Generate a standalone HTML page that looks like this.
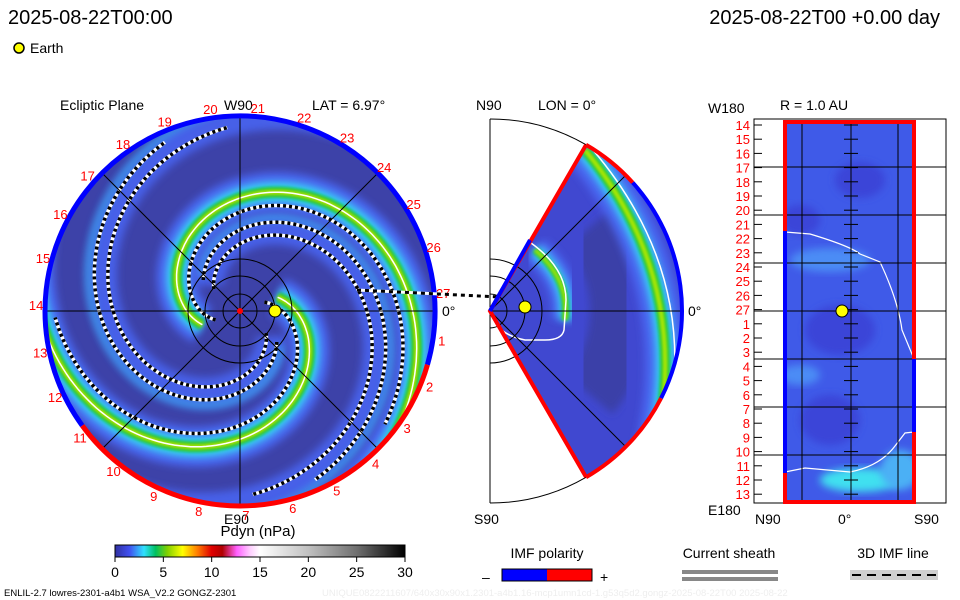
<!DOCTYPE html>
<html><head><meta charset="utf-8"><style>
html,body{margin:0;padding:0;background:#fff;}
svg{display:block;font-family:"Liberation Sans",sans-serif;}
</style></head><body>
<svg id="s" width="960" height="600" viewBox="0 0 960 600" xmlns="http://www.w3.org/2000/svg">
<defs>
<filter id="bl" x="-20%" y="-20%" width="140%" height="140%"><feGaussianBlur stdDeviation="4"/></filter>
<filter id="bl2" x="-20%" y="-20%" width="140%" height="140%"><feGaussianBlur stdDeviation="1.5"/></filter>
<clipPath id="cc"><circle cx="240" cy="311" r="195"/></clipPath>
<clipPath id="wc"><path d="M490,311 L586,145 A192,192 0 0 1 586,477 Z"/></clipPath>
<clipPath id="rc"><rect x="785" y="122" width="129" height="380"/></clipPath>
<linearGradient id="cb" x1="0" x2="1" y1="0" y2="0">
<stop offset="0" stop-color="#3030a0"/><stop offset="0.05" stop-color="#4050f0"/><stop offset="0.1" stop-color="#30e0ff"/><stop offset="0.14" stop-color="#00c060"/><stop offset="0.18" stop-color="#80d000"/><stop offset="0.233" stop-color="#ffff00"/><stop offset="0.283" stop-color="#ff8000"/><stop offset="0.333" stop-color="#e00000"/><stop offset="0.37" stop-color="#b00000"/><stop offset="0.42" stop-color="#ff60ff"/><stop offset="0.467" stop-color="#ffd0ff"/><stop offset="0.5" stop-color="#ffffff"/><stop offset="0.667" stop-color="#c0c0c0"/><stop offset="0.833" stop-color="#707070"/><stop offset="1" stop-color="#000000"/>
</linearGradient>
<linearGradient id="pol" x1="0" x2="1"><stop offset="0.5" stop-color="#0000ff"/><stop offset="0.5" stop-color="#ff0000"/></linearGradient>
</defs>

<text x="8" y="24" font-size="20">2025-08-22T00:00</text>
<text x="940" y="24" font-size="20" text-anchor="end">2025-08-22T00 +0.00 day</text>
<circle cx="19" cy="48" r="5" fill="#ffff00" stroke="#000" stroke-width="1.5"/>
<text x="30" y="53" font-size="14">Earth</text>

<text x="60" y="110" font-size="14">Ecliptic Plane</text>
<text x="224" y="110" font-size="14">W90</text>
<text x="312" y="110" font-size="14">LAT = 6.97°</text>
<text x="224" y="524" font-size="14">E90</text>
<text x="442" y="316" font-size="14">0°</text>

<g clip-path="url(#cc)">
<rect x="40" y="110" width="400" height="400" fill="#3d42a8"/>
<g id="spirals"></g>
</g>
<g id="circAx"></g>

<text x="476" y="110" font-size="14">N90</text>
<text x="538" y="110" font-size="14">LON = 0°</text>
<text x="474" y="524" font-size="14">S90</text>
<text x="688" y="316" font-size="14">0°</text>
<g id="mer"></g>

<text x="780" y="110" font-size="14">R = 1.0 AU</text>
<text x="708" y="113" font-size="14">W180</text>
<text x="708" y="515" font-size="14">E180</text>
<text x="755" y="524" font-size="14">N90</text>
<text x="838" y="524" font-size="14">0°</text>
<text x="914" y="524" font-size="14">S90</text>
<g id="rp"></g>

<text x="258" y="536" font-size="15" text-anchor="middle">Pdyn (nPa)</text>
<rect x="115" y="545" width="290" height="12" fill="url(#cb)" stroke="#000"/>
<g id="cbt"></g>

<text x="547" y="558" font-size="14" text-anchor="middle">IMF polarity</text>
<text x="482" y="582" font-size="14">–</text>
<rect x="502" y="569" width="90" height="12" fill="url(#pol)" stroke="#000"/>
<text x="600" y="582" font-size="14">+</text>
<text x="729" y="558" font-size="14" text-anchor="middle">Current sheath</text>
<rect x="682" y="570" width="96" height="4" fill="#888"/>
<rect x="682" y="577" width="96" height="4" fill="#888"/>
<text x="893" y="558" font-size="14" text-anchor="middle">3D IMF line</text>
<rect x="850" y="570" width="88" height="10" fill="#d0d0d0"/>
<line x1="852" y1="575" x2="936" y2="575" stroke="#000" stroke-width="2" stroke-dasharray="9,6"/>
<text x="4" y="596" font-size="9.5">ENLIL-2.7 lowres-2301-a4b1 WSA_V2.2 GONGZ-2301</text>
<text x="322" y="596" font-size="9.5" fill="#eeeeee">UNIQUE0822211607/640x30x90x1.2301-a4b1.16-mcp1umn1cd-1.g53q5d2.gongz-2025-08-22T00   2025-08-22</text>
</svg>
<script>
const NS="http://www.w3.org/2000/svg";
const cbTicks=[0,5,10,15,20,25,30];
const lonLabels=[27,1,2,3,4,5,6,7,8,9,10,11,12,13,14,15,16,17,18,19,20,21,22,23,24,25,26];
const rightLabels=[14,15,16,17,18,19,20,21,22,23,24,25,26,27,1,2,3,4,5,6,7,8,9,10,11,12,13];
const armStartR=[40,40];
const armPhase=[180,0];
const armK=[38,46];
const sideArmPhase=[120,300];
const cx=240,cy=311,R=195;
function el(t,a,p){const e=document.createElementNS(NS,t);for(const k in a)e.setAttribute(k,a[k]);(p||document.getElementById('s')).appendChild(e);return e;}
function spiral(ph,r0,off,endR,K){K=K||38;let pts=[];for(let d=0;d<720;d+=2){const th=(ph+20-d)*Math.PI/180;const r=r0+K*(d*Math.PI/180)+off;if(r>endR)break;if(r<5)continue;pts.push((cx+r*Math.cos(th)).toFixed(1)+','+(cy-r*Math.sin(th)).toFixed(1));}return pts.join(' ');}
const sp=document.getElementById('spirals');
sideArmPhase.forEach((ph,i)=>{
 let e=el('polyline',{points:spiral(ph,40,0,240),fill:'none',stroke:'#4660e8','stroke-width':30,filter:'url(#bl)'},sp);
 
 e=el('polyline',{points:spiral(ph,40,14,240),fill:'none',stroke:'#3aa8f0','stroke-width':7,filter:'url(#bl)',opacity:0.8},sp);
 
 [-6,8].forEach(o=>{
  const p=spiral(ph,40,o,185);
  let w=el('polyline',{points:p,fill:'none',stroke:'#fff','stroke-width':3.5},sp);
  
  let b=el('polyline',{points:p,fill:'none',stroke:'#000','stroke-width':3.5,'stroke-dasharray':'3,3'},sp);
  
 });
});
armPhase.forEach((ph,i)=>{
 const r0=armStartR[i],K=armK[i];
 const layers=[['#4a66f0',40,'url(#bl)'],['#38d8f8',20,'url(#bl)'],['#10c040',11,'url(#bl2)'],['#a8e000',6,'url(#bl2)'],['#ffffff',1.5,'']];
 layers.forEach(L=>{
  const a={points:spiral(ph,r0,0,240,K),fill:'none',stroke:L[0],'stroke-width':L[1]};if(L[2])a.filter=L[2];
  const e=el('polyline',a,sp);
  
 });
 const p=spiral(ph,r0,-14,185,K);
 let w=el('polyline',{points:p,fill:'none',stroke:'#fff','stroke-width':3.5},sp);
 
 let b=el('polyline',{points:p,fill:'none',stroke:'#000','stroke-width':3.5,'stroke-dasharray':'3,3'},sp);
 
});
const ca=document.getElementById('circAx');
[[45,311,435,311],[240,116,240,506],[102,173,378,449],[102,449,378,173]].forEach(l=>{const e=el('line',{x1:l[0],y1:l[1],x2:l[2],y2:l[3],stroke:'#000','stroke-width':1},ca);});
[17,35,52].forEach(r=>{const e=el('circle',{cx:cx,cy:cy,r:r,fill:'none',stroke:'#000','stroke-width':1},ca);});
function arcP(c,y,r,a1,a2){const s=[c+r*Math.cos(a1*Math.PI/180),y-r*Math.sin(a1*Math.PI/180)],t=[c+r*Math.cos(a2*Math.PI/180),y-r*Math.sin(a2*Math.PI/180)];const big=Math.abs(a2-a1)>180?1:0;const sw=a2>a1?0:1;return `M${s[0]},${s[1]} A${r},${r} 0 ${big} ${sw} ${t[0]},${t[1]}`;}
let e=el('path',{d:arcP(cx,cy,R,-16,216),fill:'none',stroke:'#0000ff','stroke-width':5},ca);
e=el('path',{d:arcP(cx,cy,R,216,344),fill:'none',stroke:'#ff0000','stroke-width':5},ca);
lonLabels.forEach((n,i)=>{const a=(5-i*360/27)*Math.PI/180;const t=el('text',{x:(cx+204*Math.cos(a)).toFixed(1),y:(cy-204*Math.sin(a)+5).toFixed(1),'font-size':13,fill:'#ff0000','text-anchor':'middle'},ca);t.textContent=n;});
e=el('line',{x1:357,y1:290,x2:500,y2:297,stroke:'#fff','stroke-width':3},ca);
e=el('line',{x1:357,y1:290,x2:500,y2:297,stroke:'#000','stroke-width':3,'stroke-dasharray':'4,4'},ca);
e=el('circle',{cx:275,cy:311,r:6,fill:'#ffff00',stroke:'#000','stroke-width':1},ca);
e=el('circle',{cx:cx,cy:cy,r:3,fill:'#ff0000'},ca);
const m=document.getElementById('mer');
e=el('path',{d:arcP(490,311,192,90,60)+' '+arcP(490,311,192,-60,-90),fill:'none',stroke:'#000','stroke-width':1},m);
e=el('line',{x1:490,y1:119,x2:490,y2:503,stroke:'#000'},m);
const mg=el('g',{'clip-path':'url(#wc)'},m);
el('rect',{x:480,y:130,width:220,height:360,fill:'#4048d0'},mg);
el('path',{d:arcP(490,311,130,40,-40),fill:'none',stroke:'#3a3fa8','stroke-width':60,filter:'url(#bl)'},mg);
[['#4a66f0',40,'url(#bl)'],['#38d8f8',18,'url(#bl)'],['#10c040',10,'url(#bl2)'],['#b0e800',5,'url(#bl2)']].forEach(L=>{el('path',{d:'M585,150 Q700,290 650,470',fill:'none',stroke:L[0],'stroke-width':L[1],filter:L[2]},mg);el('path',{d:'M535,250 Q570,280 565,320',fill:'none',stroke:L[0],'stroke-width':L[1]*0.7,filter:L[2]},mg);});
el('path',{d:'M593,150 Q712,290 658,465',fill:'none',stroke:'#fff','stroke-width':1.5},mg);
el('path',{d:'M531,243 Q566,268 566,300 L564,330 Q562,340 545,340 L525,340 Q505,336 497,325',fill:'none',stroke:'#fff','stroke-width':1.5},mg);
[[490,311,680,311],[490,311,626,175],[490,311,626,447]].forEach(l=>el('line',{x1:l[0],y1:l[1],x2:l[2],y2:l[3],stroke:'#000'},m));
[17,35,52].forEach(r=>el('path',{d:arcP(490,311,r,90,-90),fill:'none',stroke:'#000'},m));
e=el('path',{d:'M586,145 L490,311 L586,477',fill:'none',stroke:'#ff0000','stroke-width':4},m);
el('path',{d:'M530,240 L490,311',fill:'none',stroke:'#0000ff','stroke-width':4},m);
el('path',{d:arcP(490,311,192,60,42),fill:'none',stroke:'#ff0000','stroke-width':4},m);
el('path',{d:arcP(490,311,192,42,-27),fill:'none',stroke:'#0000ff','stroke-width':4},m);
el('path',{d:arcP(490,311,192,-27,-60),fill:'none',stroke:'#ff0000','stroke-width':4},m);
e=el('circle',{cx:525,cy:307,r:6,fill:'#ffff00',stroke:'#000'},m);
const rp=document.getElementById('rp');
e=el('rect',{x:754,y:119,width:192,height:384,fill:'#fff',stroke:'#000'},rp);
const rg=el('g',{'clip-path':'url(#rc)'},rp);
el('rect',{x:785,y:122,width:129,height:380,fill:'#3f5ae8'},rg);
[[860,180,25,18,'#3a45d8'],[800,220,20,15,'#3a45d8'],[840,330,35,25,'#3a45d8'],[830,420,30,25,'#3a45d8'],[830,260,40,12,'#4c8cf5'],[860,480,40,12,'#40e0f0'],[900,470,20,20,'#4cb0f5'],[800,375,20,10,'#4c8cf5']].forEach(b=>el('ellipse',{cx:b[0],cy:b[1],rx:b[2],ry:b[3],fill:b[4],filter:'url(#bl)'},rg));
el('path',{d:'M785,232 L810,234 Q850,246 860,254 L880,262 Q898,300 902,330 L914,359',fill:'none',stroke:'#fff','stroke-width':1.2},rg);
el('path',{d:'M785,472 L805,468 L850,472 Q880,466 895,446 L905,433 L914,432',fill:'none',stroke:'#fff','stroke-width':1.2},rg);
[167,215,263,311,359,407,455].forEach(y=>el('line',{x1:754,y1:y,x2:946,y2:y,stroke:'#000'},rp));
[802,851,898].forEach(x=>el('line',{x1:x,y1:122,x2:x,y2:502,stroke:'#000'},rp));
rightLabels.forEach((n,i)=>{const y=125+i*14.2;el('line',{x1:754,y1:y,x2:762,y2:y,stroke:'#000'},rp);el('line',{x1:844,y1:y,x2:858,y2:y,stroke:'#000'},rp);const t=el('text',{x:750,y:(y+5).toFixed(1),'font-size':13,fill:'#ff0000','text-anchor':'end'},rp);t.textContent=n;});
el('rect',{x:785,y:122,width:129,height:380,fill:'none',stroke:'#ff0000','stroke-width':4},rp);
el('line',{x1:785,y1:231,x2:785,y2:473,stroke:'#0000ff','stroke-width':4},rp);
el('line',{x1:914,y1:359,x2:914,y2:432,stroke:'#0000ff','stroke-width':4},rp);
e=el('circle',{cx:842,cy:311,r:6,fill:'#ffff00',stroke:'#000'},rp);
const cb=document.getElementById('cbt');
cbTicks.forEach(v=>{const x=115+v/30*290;el('line',{x1:x,y1:557,x2:x,y2:562,stroke:'#000'},cb);const t=el('text',{x:x,y:577,'font-size':14,'text-anchor':'middle'},cb);t.textContent=v;});
</script>
</body></html>
